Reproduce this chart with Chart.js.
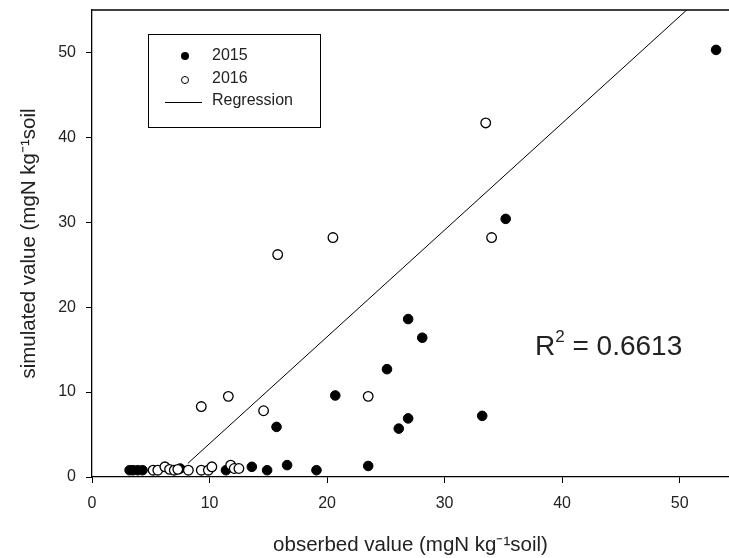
<!DOCTYPE html>
<html>
<head>
<meta charset="utf-8">
<script src="https://cdn.jsdelivr.net/npm/chart.js@4.4.1/dist/chart.umd.min.js"></script>
<style>
  html, body { margin:0; padding:0; background:#fff; overflow:hidden; }
  canvas { display:block; }
</style>
</head>
<body>
<canvas id="chart" width="729" height="558"></canvas>
<script>
const FONT = "'Liberation Sans', Arial, sans-serif";

// 2015 observed / simulated
const obs2015 = [3.2, 3.5, 3.9, 4.3, 7.5, 11.4, 13.6, 14.9, 15.7, 16.6, 19.1, 20.7, 23.5, 25.1, 26.1, 26.9, 26.9, 28.1, 33.2, 35.2, 53.1];
const sim2015 = [0.8, 0.8, 0.8, 0.8, 1.0, 0.8, 1.2, 0.8, 5.9, 1.4, 0.8, 9.6, 1.3, 12.7, 5.7, 6.9, 18.6, 16.4, 7.2, 30.4, 50.3];

// 2016 observed / simulated
const obs2016 = [5.2, 5.6, 6.2, 6.6, 7.0, 7.3, 8.2, 9.3, 9.9, 10.2, 11.8, 12.1, 12.5, 9.3, 11.6, 14.6, 15.8, 20.5, 23.5, 34.0, 33.5];
const sim2016 = [0.8, 0.8, 1.2, 0.9, 0.8, 0.9, 0.8, 0.8, 0.8, 1.2, 1.4, 1.0, 1.0, 8.3, 9.5, 7.8, 26.2, 28.2, 9.5, 28.2, 41.7];

// regression line end points
const regX = [8.15, 50.6];
const regY = [1.6, 55];

const xTicks = [0, 10, 20, 30, 40, 50];
const yTicks = [0, 10, 20, 30, 40, 50];
const r2Text = '0.6613';

const pts = (xs, ys) => xs.map((x, i) => ({ x, y: ys[i] }));

const noPad = s => { s.paddingTop = 0; s.paddingBottom = 0; s.paddingLeft = 0; s.paddingRight = 0; };

const frameAndText = {
    id: 'frameAndText',
    afterDraw(chart) {
        const { ctx, chartArea: a } = chart;
        ctx.save();
        // top frame line
        ctx.strokeStyle = '#000';
        ctx.lineWidth = 1.3;
        ctx.beginPath();
        ctx.moveTo(a.left, a.top);
        ctx.lineTo(a.right, a.top);
        ctx.stroke();

        // legend box
        ctx.lineWidth = 1;
        ctx.strokeRect(148.5, 34.5, 172, 93);
        ctx.fillStyle = '#000';
        ctx.beginPath(); ctx.arc(185, 56, 4, 0, Math.PI * 2); ctx.fill();
        ctx.fillStyle = '#fff';
        ctx.beginPath(); ctx.arc(185, 80, 3.5, 0, Math.PI * 2); ctx.fill(); ctx.stroke();
        ctx.beginPath(); ctx.moveTo(165, 102.5); ctx.lineTo(202, 102.5); ctx.stroke();
        ctx.fillStyle = '#222';
        ctx.font = '16px ' + FONT;
        ctx.textBaseline = 'middle';
        ctx.textAlign = 'left';
        ctx.fillText('2015', 212, 56);
        ctx.fillText('2016', 212, 79);
        ctx.fillText('Regression', 212, 101);

        // R squared
        ctx.textBaseline = 'alphabetic';
        ctx.font = '28px ' + FONT;
        let x = 535;
        ctx.fillText('R', x, 355);
        x += ctx.measureText('R').width;
        ctx.font = '17px ' + FONT;
        ctx.fillText('2', x, 342);
        x += ctx.measureText('2').width;
        ctx.font = '28px ' + FONT;
        ctx.fillText(' = ' + r2Text, x, 355);
        ctx.restore();
    }
};

new Chart(document.getElementById('chart'), {
    type: 'scatter',
    data: {
        datasets: [
            {
                label: '2015',
                data: pts(obs2015, sim2015),
                backgroundColor: '#000',
                borderColor: '#000',
                borderWidth: 1,
                pointRadius: 4.8,
                order: 2,
            },
            {
                label: '2016',
                data: pts(obs2016, sim2016),
                backgroundColor: '#fff',
                borderColor: '#000',
                borderWidth: 1.3,
                pointRadius: 4.8,
                order: 1,
            },
            {
                label: 'Regression',
                type: 'line',
                data: pts(regX, regY),
                borderColor: '#000',
                borderWidth: 1,
                pointRadius: 0,
                fill: false,
                order: 0,
            },
        ]
    },
    options: {
        responsive: false,
        maintainAspectRatio: false,
        animation: false,
        events: [],
        layout: { autoPadding: false, padding: { top: 10, right: 0, left: 0, bottom: 0 } },
        plugins: { legend: { display: false }, tooltip: { enabled: false } },
        scales: {
            x: {
                type: 'linear',
                min: 0,
                max: 54.2,
                afterBuildTicks: s => { s.ticks = xTicks.map(v => ({ value: v })); },
                afterFit: s => { s.height = 81; noPad(s); },
                ticks: { color: '#222', font: { family: FONT, size: 16 }, padding: 11, maxRotation: 0 },
                grid: { drawOnChartArea: false, color: '#000', tickLength: 6, lineWidth: 1 },
                border: { color: '#000', width: 1.3 },
                title: {
                    display: true,
                    text: 'obserbed value (mgN kg\u207B\u00B9soil)',
                    color: '#222',
                    font: { family: FONT, size: 20.5 },
                    padding: { top: 0, bottom: 0 },
                },
            },
            y: {
                type: 'linear',
                min: 0,
                max: 55,
                afterBuildTicks: s => { s.ticks = yTicks.map(v => ({ value: v })); },
                afterFit: s => { s.width = 92; noPad(s); },
                ticks: { color: '#222', font: { family: FONT, size: 16 }, padding: 10 },
                grid: { drawOnChartArea: false, color: '#000', tickLength: 6, lineWidth: 1 },
                border: { color: '#000', width: 1.3 },
                title: {
                    display: true,
                    text: 'simulated value (mgN kg\u207B\u00B9soil',
                    color: '#222',
                    font: { family: FONT, size: 20.5 },
                    padding: { top: 17, bottom: 0 },
                },
            },
        }
    },
    plugins: [frameAndText]
});
</script>
</body>
</html>
